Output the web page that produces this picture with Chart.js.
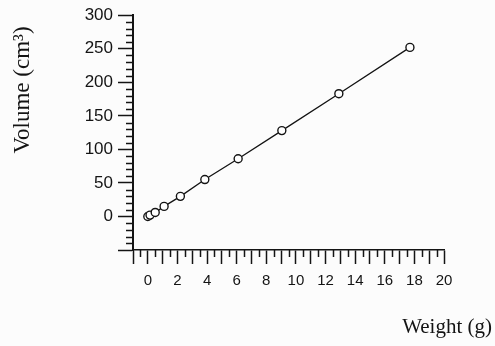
<!DOCTYPE html>
<html>
<head>
<meta charset="utf-8">
<script src="https://cdn.jsdelivr.net/npm/chart.js@4.4.1/dist/chart.umd.min.js"></script>
<style>
  html, body { margin: 0; padding: 0; background: #fcfcfc; }
  #wrap { width: 495px; height: 346px; position: relative; }
</style>
</head>
<body>
<div id="wrap"><canvas id="chart" width="495" height="346"></canvas></div>
<script>
// Measured weight (g) and volume (cm³) of each sample
const weights = [0, 0.15, 0.5, 1.1, 2.2, 3.85, 6.1, 9.05, 12.9, 17.7];
const volumes = [0, 2, 6, 15, 30, 55, 86, 128, 183, 252];

// Axis ranges and tick spacing
const xRange = [-1, 20];
const xStep = 0.5;
const xLabelEvery = 2;
const yRange = [-50, 300];
const yStep = 10;
const yLabelEvery = 50;

const yTitle = 'Volume (cm³)';
const xTitle = 'Weight (g)';

const INK = '#141414';
const isXMajor = v => Number.isInteger(v);
const isYMajor = v => v % yLabelEvery === 0;

// Short minor tick marks and the two axis titles
const extras = {
  id: 'extras',
  afterDraw(chart) {
    const { ctx, chartArea } = chart;
    const xs = chart.scales.x, ys = chart.scales.y;
    ctx.save();
    ctx.strokeStyle = INK;
    ctx.lineWidth = 1.5;
    ctx.beginPath();
    xs.ticks.forEach(t => {
      if (isXMajor(t.value)) return;
      const px = Math.round(xs.getPixelForValue(t.value)) + 0.5;
      ctx.moveTo(px, chartArea.bottom);
      ctx.lineTo(px, chartArea.bottom + 7);
    });
    ys.ticks.forEach(t => {
      if (isYMajor(t.value)) return;
      const py = Math.round(ys.getPixelForValue(t.value)) + 0.5;
      ctx.moveTo(chartArea.left - 7, py);
      ctx.lineTo(chartArea.left, py);
    });
    ctx.stroke();

    ctx.fillStyle = INK;
    ctx.textBaseline = 'alphabetic';
    ctx.save();
    ctx.font = '23px "Liberation Serif", serif';
    ctx.translate(29, 90);
    ctx.rotate(-Math.PI / 2);
    ctx.textAlign = 'center';
    ctx.fillText(yTitle, 0, 0);
    ctx.restore();

    ctx.font = '21px "Liberation Serif", serif';
    ctx.textAlign = 'right';
    ctx.fillText(xTitle, 492, 333);
    ctx.restore();
  }
};

new Chart(document.getElementById('chart'), {
  type: 'scatter',
  data: {
    datasets: [{
      data: weights.map((w, i) => ({ x: w, y: volumes[i] })),
      showLine: true,
      borderColor: INK,
      borderWidth: 1.3,
      backgroundColor: '#ffffff',
      pointRadius: 4,
      pointBorderWidth: 1.4,
      pointBorderColor: INK,
      pointBackgroundColor: '#ffffff',
      tension: 0
    }]
  },
  options: {
    responsive: false,
    animation: false,
    events: [],
    layout: { padding: { left: 0, right: 51, top: 15, bottom: 0 } },
    plugins: { legend: { display: false }, tooltip: { enabled: false } },
    scales: {
      x: {
        type: 'linear',
        min: xRange[0],
        max: xRange[1],
        afterFit(s) { s.height = 96; },
        border: { display: true, color: INK, width: 1.5 },
        grid: {
          display: true,
          drawOnChartArea: false,
          drawTicks: true,
          tickLength: 14,
          tickWidth: 1.5,
          tickColor: c => isXMajor(c.tick.value) ? INK : 'rgba(0,0,0,0)'
        },
        ticks: {
          stepSize: xStep,
          autoSkip: false,
          maxRotation: 0,
          padding: 8,
          color: INK,
          font: { family: '"Liberation Sans", Arial, sans-serif', size: 15 },
          callback: v => (v >= 0 && v % xLabelEvery === 0) ? String(v) : ''
        }
      },
      y: {
        type: 'linear',
        min: yRange[0],
        max: yRange[1],
        afterFit(s) { s.width = 133; },
        border: { display: true, color: INK, width: 2 },
        grid: {
          display: true,
          drawOnChartArea: false,
          drawTicks: true,
          tickLength: 15,
          tickWidth: 1.5,
          tickColor: c => isYMajor(c.tick.value) ? INK : 'rgba(0,0,0,0)'
        },
        ticks: {
          stepSize: yStep,
          autoSkip: false,
          padding: 5,
          color: INK,
          font: { family: '"Liberation Sans", Arial, sans-serif', size: 17 },
          callback: v => (v >= 0 && isYMajor(v)) ? String(v) : ''
        }
      }
    }
  },
  plugins: [extras]
});
</script>
</body>
</html>
